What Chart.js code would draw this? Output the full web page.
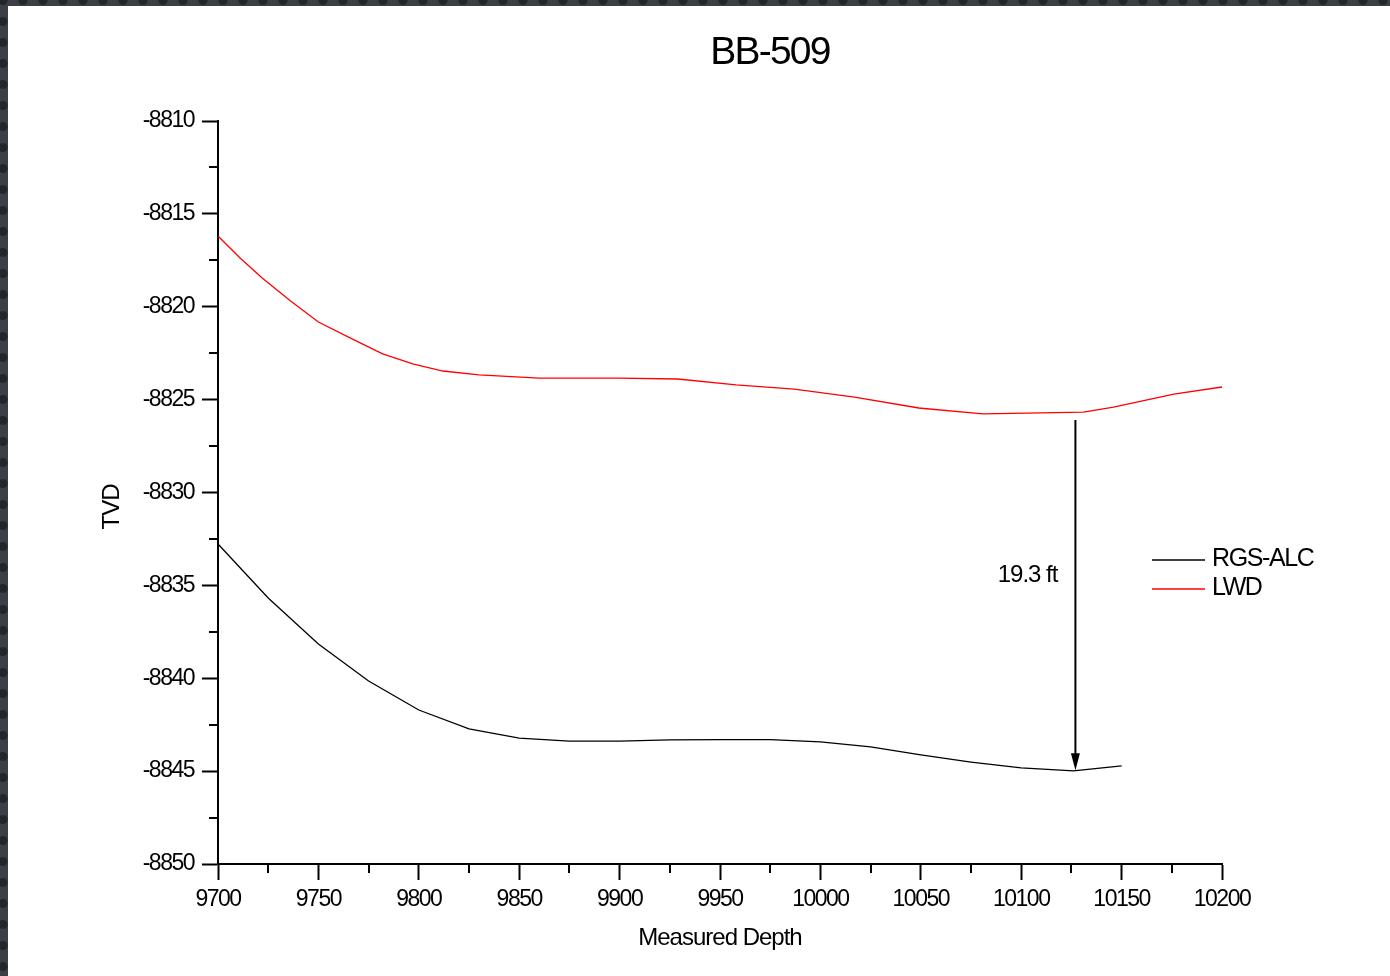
<!DOCTYPE html>
<html lang="en">
<head>
    <meta charset="UTF-8">
    <title>BB-509</title>
    <script src="https://cdn.jsdelivr.net/npm/chart.js"></script>
    <style>
        body {
            margin: 0;
            width: 1390px;
            height: 976px;
            overflow: hidden;
            background-color: #3c3f45;
            background-image: radial-gradient(circle, #23262b 4px, transparent 5px);
            background-size: 20px 21px;
            background-position: -7px -10px;
        }
        #wrap {
            position: absolute;
            left: 8px;
            top: 6px;
            width: 1382px;
            height: 970px;
            background: #fff;
        }
    </style>
</head>
<body>

<div id="wrap">
    <canvas id="tvdChart" width="1382" height="970"></canvas>
</div>

<script>
    // Values
    const rgsDepth = [9700, 9725, 9750, 9775, 9800, 9825, 9850, 9875, 9900, 9925, 9950, 9975,
                      10000, 10025, 10050, 10075, 10100, 10126, 10150];
    const rgsTvd = [-8832.77, -8835.68, -8838.16, -8840.15, -8841.71, -8842.73, -8843.22, -8843.38,
                    -8843.38, -8843.32, -8843.30, -8843.30, -8843.43, -8843.70, -8844.13, -8844.51,
                    -8844.83, -8844.99, -8844.72];

    const lwdDepth = [9700, 9711, 9722, 9736, 9750, 9767, 9782, 9797, 9812, 9830, 9860, 9900, 9929,
                      9958, 9987, 10017, 10049, 10081, 10131, 10146, 10176, 10200];
    const lwdTvd = [-8816.19, -8817.38, -8818.45, -8819.68, -8820.82, -8821.74, -8822.54, -8823.08,
                    -8823.46, -8823.67, -8823.84, -8823.84, -8823.89, -8824.21, -8824.43, -8824.86,
                    -8825.45, -8825.77, -8825.67, -8825.40, -8824.70, -8824.32];

    const seriesNames = ['RGS-ALC', 'LWD'];
    const seriesColors = ['#000000', '#ff0000'];

    // thickness annotation
    const arrowDepth = 10127;
    const arrowTop = -8826.1;
    const arrowBottom = -8844.95;
    const arrowText = '19.3 ft';

    const fontFamily = "'Liberation Sans', Arial, sans-serif";

    function toPoints(xs, ys) {
        return xs.map(function(x, i) { return { x: x, y: ys[i] }; });
    }

    // minor ticks, titles, legend and arrow
    const extras = {
        id: 'extras',
        beforeDraw: function(chart) {
            chart.ctx.letterSpacing = '-1.5px';
        },
        afterDraw: function(chart) {
            const ctx = chart.ctx;
            const xs = chart.scales.x;
            const ys = chart.scales.y;
            const area = chart.chartArea;

            ctx.save();
            ctx.strokeStyle = '#000';
            ctx.lineWidth = 2;
            // minor ticks
            xs.ticks.forEach(function(t, i) {
                if (t.value % 50 !== 0) {
                    const px = Math.round(xs.getPixelForTick(i));
                    ctx.beginPath();
                    ctx.moveTo(px, area.bottom);
                    ctx.lineTo(px, area.bottom + 9);
                    ctx.stroke();
                }
            });
            ys.ticks.forEach(function(t, i) {
                if (t.value % 5 !== 0) {
                    const py = Math.round(ys.getPixelForTick(i));
                    ctx.beginPath();
                    ctx.moveTo(area.left, py);
                    ctx.lineTo(area.left - 9, py);
                    ctx.stroke();
                }
            });

            // arrow
            const ax = xs.getPixelForValue(arrowDepth);
            const ay1 = ys.getPixelForValue(arrowTop);
            const ay2 = ys.getPixelForValue(arrowBottom);
            ctx.beginPath();
            ctx.moveTo(ax, ay1);
            ctx.lineTo(ax, ay2 - 14);
            ctx.stroke();
            ctx.fillStyle = '#000';
            ctx.beginPath();
            ctx.moveTo(ax - 4.5, ay2 - 17);
            ctx.lineTo(ax + 4.5, ay2 - 17);
            ctx.lineTo(ax, ay2);
            ctx.closePath();
            ctx.fill();

            ctx.textBaseline = 'middle';
            ctx.letterSpacing = '-1px';
            ctx.font = '24px ' + fontFamily;
            ctx.textAlign = 'right';
            ctx.fillText(arrowText, ax - 18, ys.getPixelForValue(-8834.4) + 1);

            // legend
            ctx.textAlign = 'left';
            ctx.font = '25px ' + fontFamily;
            ctx.letterSpacing = '-1.4px';
            seriesNames.forEach(function(name, i) {
                const ly = 554 + i * 29;
                ctx.strokeStyle = seriesColors[i];
                ctx.lineWidth = 1.3;
                ctx.beginPath();
                ctx.moveTo(1144, ly);
                ctx.lineTo(1197, ly);
                ctx.stroke();
                ctx.fillText(name, 1204, ly - 1);
            });

            // titles
            ctx.textAlign = 'center';
            ctx.font = '24px ' + fontFamily;
            ctx.letterSpacing = '-1px';
            ctx.fillText('Measured Depth', (area.left + area.right) / 2, 932);
            ctx.save();
            ctx.translate(104, 501);
            ctx.rotate(-Math.PI / 2);
            ctx.fillText('TVD', 0, 0);
            ctx.restore();

            ctx.letterSpacing = '-1.8px';
            ctx.font = '39px ' + fontFamily;
            ctx.fillText('BB-509', 762, 47);
            ctx.restore();
        }
    };

    new Chart(document.getElementById('tvdChart'), {
        type: 'line',
        data: {
            datasets: [
                {
                    label: seriesNames[0],
                    data: toPoints(rgsDepth, rgsTvd),
                    borderColor: seriesColors[0],
                    borderWidth: 1.3,
                    pointRadius: 0,
                    tension: 0
                },
                {
                    label: seriesNames[1],
                    data: toPoints(lwdDepth, lwdTvd),
                    borderColor: seriesColors[1],
                    borderWidth: 1.3,
                    pointRadius: 0,
                    tension: 0
                }
            ]
        },
        options: {
            responsive: false,
            animation: false,
            layout: {
                padding: { left: 0, top: 115, right: 168, bottom: 0 }
            },
            plugins: {
                legend: { display: false },
                title: { display: false },
                tooltip: { enabled: false }
            },
            scales: {
                x: {
                    type: 'linear',
                    min: 9700,
                    max: 10200,
                    afterFit: function(scale) { scale.height = 112; },
                    border: { color: '#000', width: 2 },
                    grid: {
                        drawOnChartArea: false,
                        tickLength: 16,
                        tickWidth: 2,
                        tickColor: function(c) {
                            return c.tick && c.tick.value % 50 === 0 ? '#000' : 'rgba(0,0,0,0)';
                        }
                    },
                    ticks: {
                        stepSize: 25,
                        autoSkip: false,
                        maxRotation: 0,
                        padding: 6,
                        color: '#000',
                        font: { family: fontFamily, size: 23 },
                        callback: function(v) { return v % 50 === 0 ? String(v) : ''; }
                    }
                },
                y: {
                    type: 'linear',
                    min: -8850,
                    max: -8810,
                    afterFit: function(scale) { scale.width = 210; },
                    border: { color: '#000', width: 2 },
                    grid: {
                        drawOnChartArea: false,
                        tickLength: 16,
                        tickWidth: 2,
                        tickColor: function(c) {
                            return c.tick && c.tick.value % 5 === 0 ? '#000' : 'rgba(0,0,0,0)';
                        }
                    },
                    ticks: {
                        stepSize: 2.5,
                        autoSkip: false,
                        padding: 8,
                        color: '#000',
                        font: { family: fontFamily, size: 23 },
                        callback: function(v) { return v % 5 === 0 ? String(v) : ''; }
                    }
                }
            }
        },
        plugins: [extras]
    });
</script>

</body>
</html>
